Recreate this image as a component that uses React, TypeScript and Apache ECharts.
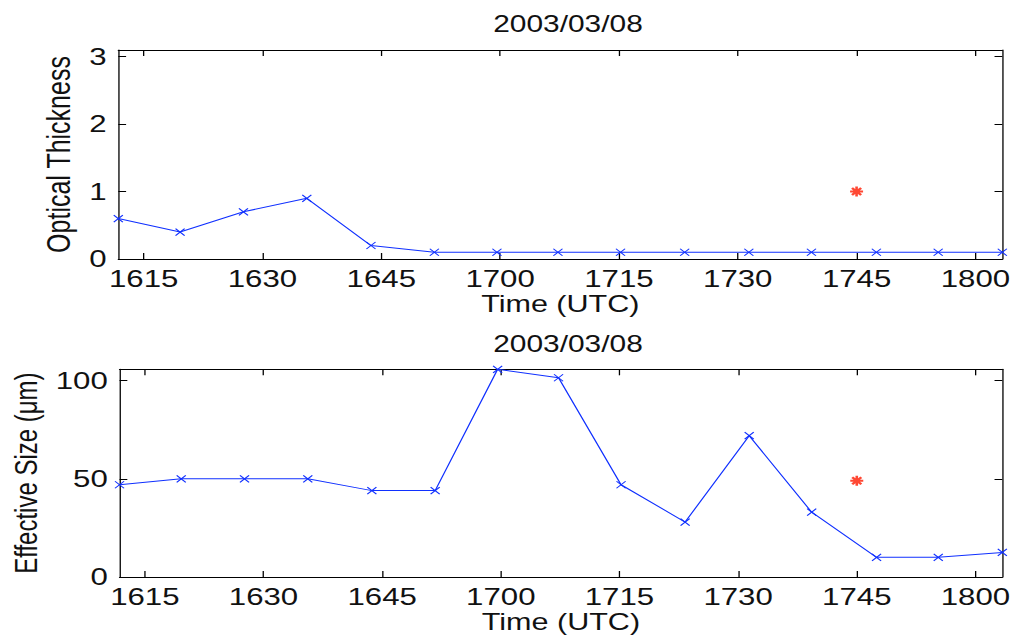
import React, { useEffect, useRef } from "react";
import * as echarts from "echarts";

// Observation times, minutes after 00:00 UTC
const OBS_MINUTES = [971.8, 979.6, 987.6, 995.6, 1003.7, 1011.7, 1019.6, 1027.3, 1035.2, 1043.3, 1051.4, 1059.3, 1067.5, 1075.3, 1083.4];
const OPTICAL_THICKNESS = [0.6, 0.4, 0.7, 0.9, 0.2, 0.1, 0.1, 0.1, 0.1, 0.1, 0.1, 0.1, 0.1, 0.1, 0.1];
const EFFECTIVE_SIZE = [47, 50, 50, 50, 44, 44, 105.8, 101.5, 47, 28, 72, 33, 10, 10, 12.5];

// Single reference retrieval (red star)
const REF_MINUTES = 1065;
const REF_THICKNESS = 1.0;
const REF_SIZE = 49;

const TIME_TICKS = [975, 990, 1005, 1020, 1035, 1050, 1065, 1080];
const THICKNESS_TICKS = [0, 1, 2, 3];
const SIZE_TICKS = [0, 50, 100];
const THICKNESS_MAX = 3.1;

const DATE_LABEL = "2003/03/08";
const X_NAME = "Time (UTC)";
const THICKNESS_NAME = "Optical Thickness";
const SIZE_NAME = "Effective Size (\u03bcm)";

// The figure is laid out narrow and stretched horizontally
const STRETCH = 1.3;
const W = 1014 / STRETCH;
const H = 643;
const LEFT = 91;
const RIGHT = 7.2;
const FONT = "'Liberation Sans', Arial, Helvetica, sans-serif";
const TEXT = "#111";
const BLUE = "#1030ff";
const RED = "#ff1a00";
const X_MARK = "path://M0,0L10,10M10,0L0,10";
const STAR_MARK = "path://M5,0L5,10M0,5L10,5M1.5,1.5L8.5,8.5M8.5,1.5L1.5,8.5";

const clock = (v: number) => {
  const h = Math.floor(v / 60);
  const m = Math.round(v - h * 60);
  return `${h}${String(m).padStart(2, "0")}`;
};

const axisLine = { show: true, onZero: false, lineStyle: { color: "#000", width: 1 } };

function xAxes(gridIndex: number) {
  const base = {
    gridIndex,
    type: "value" as const,
    min: OBS_MINUTES[0],
    max: OBS_MINUTES[OBS_MINUTES.length - 1],
    axisLine,
    splitLine: { show: false },
    axisTick: { show: true, inside: true, length: 6, customValues: TIME_TICKS, lineStyle: { color: "#000" } },
  };
  return [
    {
      ...base,
      position: "bottom",
      axisLabel: {
        customValues: TIME_TICKS,
        formatter: clock,
        color: TEXT,
        fontSize: 24,
        fontFamily: FONT,
        margin: 8,
      },
      name: X_NAME,
      nameLocation: "middle",
      nameGap: 32,
      nameTextStyle: { color: TEXT, fontSize: 23.5, fontFamily: FONT },
    },
    { ...base, position: "top", axisLabel: { show: false } },
  ];
}

function yAxes(gridIndex: number, max: number, ticks: number[], name: string, nameGap: number, nameSize: number) {
  const base = {
    gridIndex,
    type: "value" as const,
    min: 0,
    max,
    axisLine,
    splitLine: { show: false },
    axisTick: { show: true, inside: true, length: 6, customValues: ticks, lineStyle: { color: "#000" } },
  };
  return [
    {
      ...base,
      position: "left",
      axisLabel: { customValues: ticks, color: TEXT, fontSize: 24, fontFamily: FONT, margin: 9 },
      name,
      nameLocation: "middle",
      nameGap,
      nameTextStyle: { color: TEXT, fontSize: nameSize, fontFamily: FONT },
    },
    { ...base, position: "right", axisLabel: { show: false } },
  ];
}

export default function App() {
  const ref = useRef<HTMLDivElement>(null);

  useEffect(() => {
    if (!ref.current) return;
    const chart = echarts.init(ref.current, undefined, { renderer: "svg" });
    const center = (LEFT + (W - RIGHT)) / 2;
    const sizeMax = Math.max(...EFFECTIVE_SIZE);
    const titleStyle = { color: TEXT, fontSize: 23, fontWeight: "normal", fontFamily: FONT };

    chart.setOption({
      animation: false,
      backgroundColor: "#fff",
      title: [
        { text: DATE_LABEL, left: center, top: 8, textAlign: "center", textStyle: titleStyle },
        { text: DATE_LABEL, left: center, top: 328, textAlign: "center", textStyle: titleStyle },
      ],
      grid: [
        { left: LEFT, right: RIGHT, top: 50, height: 209 },
        { left: LEFT, right: RIGHT, top: 369.3, height: 207.7 },
      ],
      xAxis: [...xAxes(0), ...xAxes(1)],
      yAxis: [
        ...yAxes(0, THICKNESS_MAX, THICKNESS_TICKS, THICKNESS_NAME, 33.5, 25),
        ...yAxes(1, sizeMax, SIZE_TICKS, SIZE_NAME, 59.5, 24),
      ],
      series: [
        {
          type: "line",
          xAxisIndex: 0,
          yAxisIndex: 0,
          data: OBS_MINUTES.map((t, i) => [t, OPTICAL_THICKNESS[i]]),
          symbol: X_MARK,
          symbolSize: 7,
          lineStyle: { color: BLUE, width: 1 },
          itemStyle: { color: BLUE, borderColor: BLUE, borderWidth: 1 },
        },
        {
          type: "scatter",
          xAxisIndex: 0,
          yAxisIndex: 0,
          data: [[REF_MINUTES, REF_THICKNESS]],
          symbol: STAR_MARK,
          symbolSize: 10,
          itemStyle: { color: RED, borderColor: RED, borderWidth: 2 },
        },
        {
          type: "line",
          xAxisIndex: 2,
          yAxisIndex: 2,
          data: OBS_MINUTES.map((t, i) => [t, EFFECTIVE_SIZE[i]]),
          symbol: X_MARK,
          symbolSize: 7,
          lineStyle: { color: BLUE, width: 1 },
          itemStyle: { color: BLUE, borderColor: BLUE, borderWidth: 1 },
        },
        {
          type: "scatter",
          xAxisIndex: 2,
          yAxisIndex: 2,
          data: [[REF_MINUTES, REF_SIZE]],
          symbol: STAR_MARK,
          symbolSize: 10,
          itemStyle: { color: RED, borderColor: RED, borderWidth: 2 },
        },
      ],
    });

    return () => chart.dispose();
  }, []);

  return (
    <div
      ref={ref}
      style={{
        position: "absolute",
        left: 0,
        top: 0,
        width: W,
        height: H,
        transform: `scaleX(${STRETCH})`,
        transformOrigin: "0 0",
      }}
    />
  );
}
